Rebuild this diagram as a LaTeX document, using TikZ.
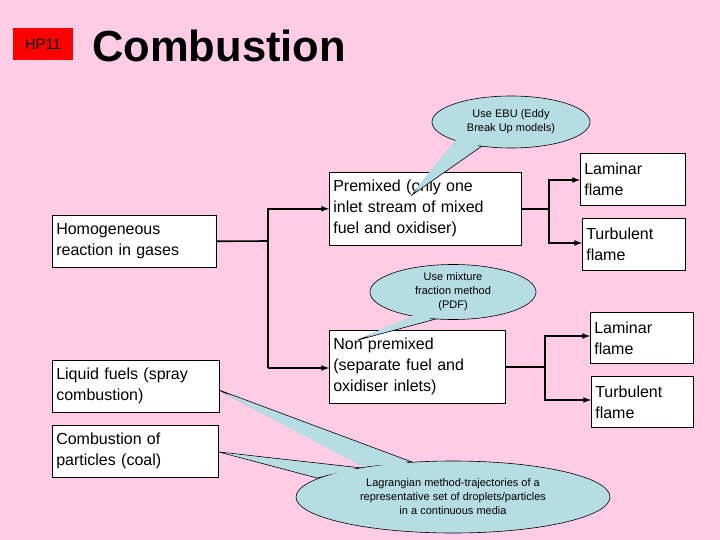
\documentclass[tikz,border=0pt]{standalone}
\usepackage{fontspec}
\setmainfont{Liberation Sans}
\usetikzlibrary{shapes.geometric}
\definecolor{bg}{HTML}{FFCCE6}
\definecolor{call}{HTML}{B7DDE4}
\begin{document}
\begin{tikzpicture}[x=1pt,y=-1pt,
  box/.style={draw,fill=white,line width=0.6pt,align=left,anchor=north west,inner sep=3pt,font=\fontsize{16}{21}\selectfont},
  con/.style={line width=1.6pt},
  arr/.style={con,-latex},
  cl/.style={draw,fill=call,line width=0.6pt},
  ctext/.style={font=\fontsize{11}{14}\selectfont,align=center}]
\useasboundingbox[fill=bg] (0,0) rectangle (720,540);
\node[fill=red,minimum width=60,minimum height=32,inner sep=0,font=\fontsize{15}{18}\selectfont] (hp) at (43,44) {HP11};
\node[anchor=west,font=\fontsize{43.5}{48}\selectfont\bfseries,inner sep=0] (title) at (92,46) {Combustion};

\node[box,minimum width=164,minimum height=52,text width=156] (hom) at (52,215) {Homogeneous\\reaction in gases};
\node[box,minimum width=192,minimum height=73,text width=184] (pre) at (329,172) {Premixed (only one\\inlet stream of mixed\\fuel and oxidiser)};
\node[box,minimum width=105,minimum height=52,text width=97] (lam1) at (580,153) {Laminar\\flame};
\node[box,minimum width=103,minimum height=52,text width=95] (tur1) at (582,218) {Turbulent\\flame};
\node[box,minimum width=176,minimum height=73,text width=168] (non) at (329,330) {Non premixed\\(separate fuel and\\oxidiser inlets)};
\node[box,minimum width=103,minimum height=51,text width=95] (lam2) at (590,312) {Laminar\\flame};
\node[box,minimum width=102,minimum height=51,text width=94] (tur2) at (591,376) {Turbulent\\flame};
\node[box,minimum width=167,minimum height=52,text width=159] (liq) at (52,360) {Liquid fuels (spray\\combustion)};
\node[box,minimum width=166,minimum height=52,text width=158] (par) at (52,425) {Combustion of\\particles (coal)};

\coordinate (j1) at (268,241);
\draw[con] (hom.east) -- (j1);
\draw[arr] (268,209) |- (pre.west);
\draw[con] (268,209) -- (268,368);
\draw[arr] (268,368) -- (329,368);
\coordinate (j2) at (549,209);
\draw[con] (pre.east|-j2) -- (j2);
\draw[arr] (j2) |- (lam1.west|-0,180);
\draw[arr] (j2) |- (tur1.west|-0,243);
\coordinate (j3) at (545,367);
\draw[con] (non.east|-j3) -- (j3);
\draw[arr] (j3) |- (lam2.west|-0,336);
\draw[arr] (j3) |- (tur2.west|-0,400);

% callout EBU
\draw[cl] (412,195) -- (455,142) -- (482,146) -- cycle;
\node[cl,ellipse,minimum width=158,minimum height=52,inner sep=0] (ebu) at (511,122) {};
\fill[call] (413,192) -- (456,140) -- (480,144) -- cycle;
\node[ctext] at (ebu) {Use EBU (Eddy\\Break Up models)};
% callout PDF
\draw[cl] (358,340) -- (423,313) -- (447,316) -- cycle;
\node[cl,ellipse,minimum width=166,minimum height=55,inner sep=0] (pdf) at (453,292) {};
\fill[call] (361,338) -- (424,311) -- (446,314) -- cycle;
\node[ctext] at (pdf) {Use mixture\\fraction method\\(PDF)};
% callout Lagrangian
\draw[cl] (219,390) -- (360,464) -- (412,462) -- cycle;
\draw[cl] (219,452) -- (317,478) -- (362,468) -- cycle;
\node[cl,ellipse,minimum width=314,minimum height=72,inner sep=0] (lag) at (453,497) {};
\fill[call] (224,393) -- (361,466) -- (411,464) -- cycle;
\fill[call] (224,453) -- (318,476) -- (360,470) -- cycle;
\node[ctext] at (lag) {Lagrangian method-trajectories of a\\representative set of droplets/particles\\in a continuous media};
\end{tikzpicture}
\end{document}
